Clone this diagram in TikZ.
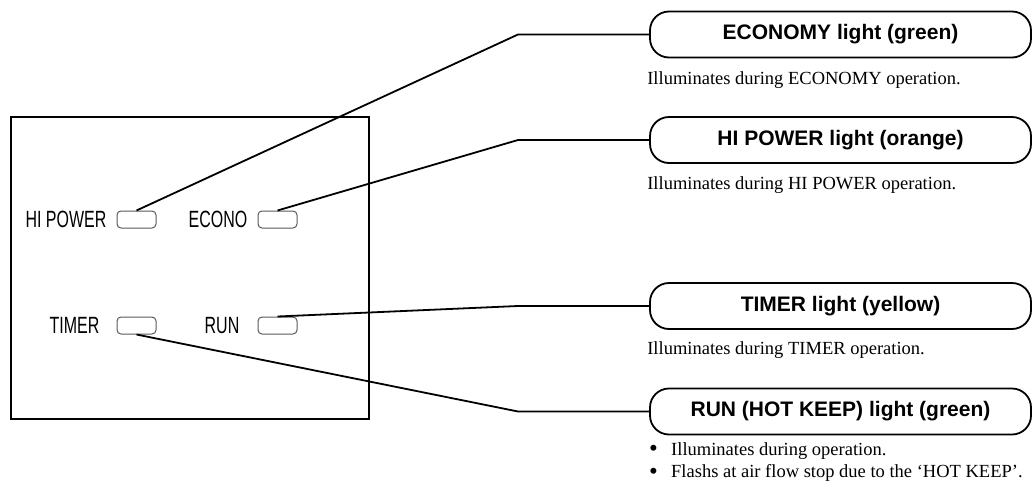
\documentclass[tikz,border=0pt]{standalone}
\usepackage{fontspec}
\setmainfont{Liberation Serif}
\setsansfont{Liberation Sans}
\newfontfamily\panelfont[FakeStretch=0.68]{Liberation Sans}
\usetikzlibrary{positioning}
\newcommand{\dotmark}{\makebox[22pt][l]{\raisebox{-1.5pt}{\scalebox{1.35}{\textbullet}}}}

\begin{document}
\begin{tikzpicture}[x=1pt, y=-1pt,
		lamp/.style={rectangle, rounded corners=4pt, draw=black!65, line width=1pt, minimum width=39pt, minimum height=17pt, inner sep=0pt},
		tag/.style={font=\panelfont\fontsize{23.5}{26}\selectfont, inner sep=0pt},
		title/.style={draw, line width=1.8pt, rounded corners=19pt, minimum width=381pt, minimum height=46pt, font=\sffamily\bfseries\fontsize{21}{25}\selectfont},
		note/.style={font=\fontsize{18.5}{23.5}\selectfont, inner sep=0pt},
		lead/.style={line width=1.8pt}]
		\useasboundingbox (0, 0) rectangle (1032, 482);

		% front panel
		\draw[line width=2.2pt] (11, 117) rectangle (369, 419);
		\node[lamp] (hp) at (136.5, 219.5) {};
		\node[lamp] (eco) at (277.5, 219.5) {};
		\node[lamp] (tmr) at (136.5, 325.5) {};
		\node[lamp] (run) at (277.5, 325.5) {};
		\node[tag, left=10pt of hp] (hptag) {HI POWER};
		\node[tag, left=10pt of eco] (ecotag) {ECONO};
		\node[tag, left=17pt of tmr] (tmrtag) {TIMER};
		\node[tag, left=18pt of run] (runtag) {RUN};

		% light names
		\node[title] (t1) at (840.5, 34.5) {ECONOMY light (green)};
		\node[title] (t2) at (840.5, 140) {HI POWER light (orange)};
		\node[title] (t3) at (840.5, 306) {TIMER light (yellow)};
		\node[title] (t4) at (840.5, 411.5) {RUN (HOT KEEP) light (green)};

		\node[note, below right=13pt and -2pt of t1.south west] (n1) {Illuminates during ECONOMY operation.};
		\node[note, below right=13pt and -2pt of t2.south west] (n2) {Illuminates during HI POWER operation.};
		\node[note, below right=12pt and -2pt of t3.south west] (n3) {Illuminates during TIMER operation.};
		\node[note, anchor=base west] (n4) at (649, 455) {\dotmark Illuminates during operation.};
		\node[note, anchor=base west] (n5) at (649, 477.5) {\dotmark Flashs at air flow stop due to the ‘HOT KEEP’.};

		% leader lines
		\coordinate (k1) at (518, 34.5);
		\coordinate (k2) at (518, 140);
		\coordinate (k3) at (518, 306);
		\coordinate (k4) at (518, 411.5);
		\draw[lead] (hp.north) -- (k1) -- (t1.west);
		\draw[lead] (eco.north) -- (k2) -- (t2.west);
		\draw[lead] (run.north) -- (k3) -- (t3.west);
		\draw[lead] (tmr.south) -- (k4) -- (t4.west);
	\end{tikzpicture}
\end{document}
